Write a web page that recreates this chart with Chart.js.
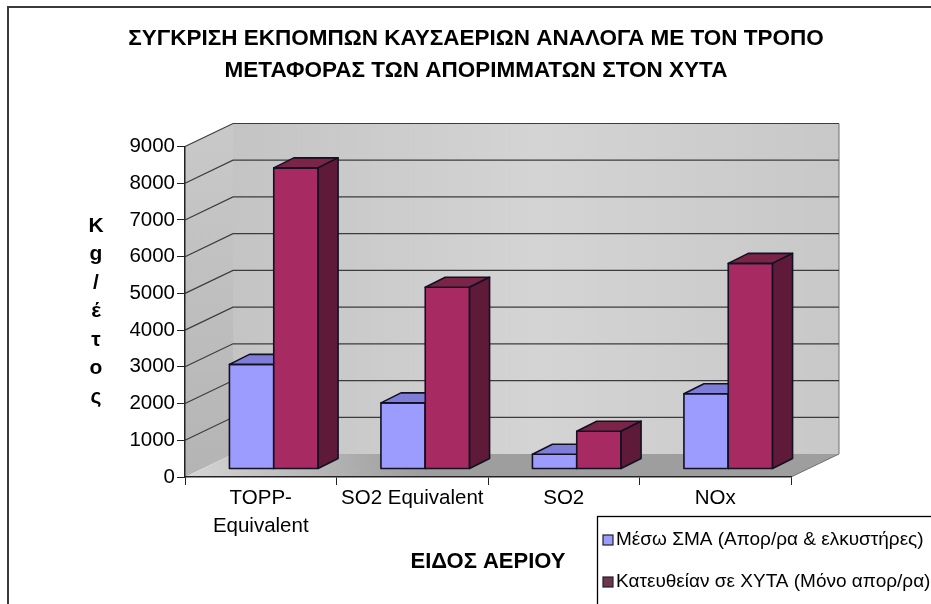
<!DOCTYPE html>
<html>
<head>
<meta charset="utf-8">
<script src="https://cdn.jsdelivr.net/npm/chart.js@4.4.1/dist/chart.umd.min.js"></script>
<style>
  html, body { margin: 0; padding: 0; background: #ffffff; }
  #wrap { width: 931px; height: 604px; position: relative; }
</style>
</head>
<body>
<div id="wrap"><canvas id="c" width="931" height="604"></canvas></div>
<script>
// ---------- data ----------
const titleLines = ['ΣΥΓΚΡΙΣΗ ΕΚΠΟΜΠΩΝ ΚΑΥΣΑΕΡΙΩΝ ΑΝΑΛΟΓΑ ΜΕ ΤΟΝ ΤΡΟΠΟ', 'ΜΕΤΑΦΟΡΑΣ ΤΩΝ ΑΠΟΡΙΜΜΑΤΩΝ ΣΤΟΝ ΧΥΤΑ'];
const categories = [['TOPP-', 'Equivalent'], 'SO2 Equivalent', 'SO2', 'NOx'];
const seriesNames = ['Μέσω ΣΜΑ (Απορ/ρα & ελκυστήρες)', 'Κατευθείαν σε ΧΥΤΑ (Μόνο απορ/ρα)'];
const viaTransfer = [2850, 1800, 400, 2050];
const directToLandfill = [8200, 4950, 1030, 5600];
const yMin = 0, yMax = 9000, yStep = 1000;
const yAxisTitleLetters = ['K', 'g', '/', 'έ', 'τ', 'ο', 'ς'];
const xAxisTitle = 'ΕΙΔΟΣ ΑΕΡΙΟΥ';

// ---------- styles ----------
const FONT = "'Liberation Sans', Arial, sans-serif";
const barStyles = [
  { front: '#9c9cff', top: '#7e7ed8', side: '#6a6abf', legend: '#9c9cff' },
  { front: '#a82a62', top: '#7a2448', side: '#5e1a38', legend: '#6e3650' }
];
const WALL_DX = 48, WALL_DY = -23;   // depth of the 3D box
const BAR_OX = 13, BAR_OY = -8;      // bar front-face placement inside the depth
const BAR_DX = 20, BAR_DY = -10;     // bar depth

Chart.defaults.font.family = FONT;
Chart.defaults.color = '#000000';

const box3d = {
  id: 'box3d',
  beforeDraw(chart) {
    const ctx = chart.ctx;
    const {left: L, right: R} = chart.chartArea;
    const ys = chart.scales.y;
    const T = ys.getPixelForValue(yMax), B = ys.getPixelForValue(yMin);
    ctx.save();
    ctx.fillStyle = '#ffffff';
    ctx.fillRect(0, 0, chart.width, chart.height);
    // outer frame
    ctx.strokeStyle = '#3a3a3a';
    ctx.lineWidth = 2;
    ctx.strokeRect(8, 7, 1000, 1000);

    // back wall
    let g = ctx.createLinearGradient(L + WALL_DX, 0, R + WALL_DX, 0);
    g.addColorStop(0, '#c4c4c4'); g.addColorStop(0.5, '#d4d4d4'); g.addColorStop(1, '#c8c8c8');
    ctx.fillStyle = g;
    ctx.fillRect(L + WALL_DX, T + WALL_DY, R - L, B - T);
    // left wall
    g = ctx.createLinearGradient(0, T, 0, B);
    g.addColorStop(0, '#c8c8c8'); g.addColorStop(1, '#b4b4b4');
    ctx.fillStyle = g;
    ctx.beginPath();
    ctx.moveTo(L, T); ctx.lineTo(L + WALL_DX, T + WALL_DY); ctx.lineTo(L + WALL_DX, B + WALL_DY); ctx.lineTo(L, B);
    ctx.closePath(); ctx.fill();
    // floor
    g = ctx.createLinearGradient(L, B, L + 220, B - 60);
    g.addColorStop(0, '#d6d6d6'); g.addColorStop(1, '#9e9e9e');
    ctx.fillStyle = g;
    ctx.beginPath();
    ctx.moveTo(L, B); ctx.lineTo(L + WALL_DX, B + WALL_DY); ctx.lineTo(R + WALL_DX, B + WALL_DY); ctx.lineTo(R, B);
    ctx.closePath(); ctx.fill();
    // floor right edge
    ctx.strokeStyle = '#707070'; ctx.lineWidth = 1;
    ctx.beginPath(); ctx.moveTo(R, B); ctx.lineTo(R + WALL_DX, B + WALL_DY); ctx.lineTo(R + WALL_DX, T + WALL_DY); ctx.stroke();

    // grid lines on left + back walls
    ctx.strokeStyle = '#3c3c3c'; ctx.lineWidth = 1.2;
    ys.ticks.forEach(t => {
      if (t.value === yMin) return;
      const y = ys.getPixelForValue(t.value);
      ctx.beginPath();
      ctx.moveTo(L, y); ctx.lineTo(L + WALL_DX, y + WALL_DY); ctx.lineTo(R + WALL_DX, y + WALL_DY);
      ctx.stroke();
    });
    ctx.restore();
  },
  beforeDatasetsDraw(chart) {
    const ctx = chart.ctx;
    ctx.save();
    ctx.lineWidth = 1.6;
    ctx.strokeStyle = '#111122';
    ctx.lineJoin = 'round';
    const n = chart.data.labels.length;
    for (let i = 0; i < n; i++) {
      chart.data.datasets.forEach((ds, d) => {
        const el = chart.getDatasetMeta(d).data[i];
        const st = barStyles[d];
        const x0 = el.x - el.width / 2 + BAR_OX, x1 = el.x + el.width / 2 + BAR_OX;
        const t = el.y + BAR_OY, b = el.base + BAR_OY;
        // front
        ctx.fillStyle = st.front;
        ctx.beginPath(); ctx.rect(x0, t, x1 - x0, b - t); ctx.fill(); ctx.stroke();
        // top
        ctx.fillStyle = st.top;
        ctx.beginPath();
        ctx.moveTo(x0, t); ctx.lineTo(x0 + BAR_DX, t + BAR_DY); ctx.lineTo(x1 + BAR_DX, t + BAR_DY); ctx.lineTo(x1, t);
        ctx.closePath(); ctx.fill(); ctx.stroke();
        // side
        ctx.fillStyle = st.side;
        ctx.beginPath();
        ctx.moveTo(x1, t); ctx.lineTo(x1 + BAR_DX, t + BAR_DY); ctx.lineTo(x1 + BAR_DX, b + BAR_DY); ctx.lineTo(x1, b);
        ctx.closePath(); ctx.fill(); ctx.stroke();
      });
    }
    ctx.restore();
    return false;
  },
  afterDraw(chart) {
    const ctx = chart.ctx;
    ctx.save();
    // vertical stacked y-axis title
    ctx.font = "bold 21px " + FONT;
    ctx.fillStyle = '#000';
    ctx.textAlign = 'center';
    ctx.textBaseline = 'middle';
    yAxisTitleLetters.forEach((ch, k) => ctx.fillText(ch, 96, 226 + k * 28.5));

    // legend box
    ctx.fillStyle = '#ffffff';
    ctx.fillRect(597, 516, 400, 200);
    ctx.strokeStyle = '#000'; ctx.lineWidth = 1.3;
    ctx.strokeRect(597.5, 516.5, 400, 200);
    ctx.font = "19px " + FONT;
    ctx.textAlign = 'left';
    ctx.textBaseline = 'middle';
    chart.data.datasets.forEach((ds, d) => {
      const y = 540 + d * 42;
      ctx.fillStyle = barStyles[d].legend;
      ctx.fillRect(603, y - 5, 10, 10);
      ctx.strokeStyle = '#222'; ctx.lineWidth = 1.2;
      ctx.strokeRect(603, y - 5, 10, 10);
      ctx.fillStyle = '#000';
      ctx.fillText(ds.label, 616, y);
    });
    ctx.restore();
  }
};

new Chart(document.getElementById('c'), {
  type: 'bar',
  data: {
    labels: categories,
    datasets: [
      { label: seriesNames[0], data: viaTransfer, backgroundColor: barStyles[0].front },
      { label: seriesNames[1], data: directToLandfill, backgroundColor: barStyles[1].front }
    ]
  },
  options: {
    responsive: false,
    animation: false,
    events: [],
    layout: { padding: { left: 21, right: 0, top: 0, bottom: 0 } },
    datasets: { bar: { categoryPercentage: 0.585, barPercentage: 1 } },
    plugins: {
      legend: { display: false },
      tooltip: { enabled: false },
      title: {
        display: true,
        text: titleLines,
        font: { size: 22.5, weight: 'bold', family: FONT, lineHeight: 1.4 },
        color: '#000',
        padding: { top: 23.5, bottom: 60 }
      }
    },
    scales: {
      x: {
        grid: { drawOnChartArea: false, drawTicks: true, tickLength: 8, offset: true, color: '#222', tickColor: '#222' },
        border: { display: true, color: '#222', width: 1.5 },
        ticks: { font: { size: 20.5, lineHeight: 1.35 }, color: '#000', padding: 0, maxRotation: 0, autoSkip: false },
        title: { display: true, text: xAxisTitle, font: { size: 22, weight: 'bold' }, color: '#000', padding: { top: 0, bottom: 29 } },
        afterFit(s) { s.height = 127; }
      },
      y: {
        min: yMin, max: yMax,
        grid: { drawOnChartArea: false, drawTicks: true, tickLength: 8, tickColor: '#222' },
        border: { display: true, color: '#222', width: 1.5 },
        ticks: { stepSize: yStep, font: { size: 20.5 }, color: '#000', padding: 2, callback: v => String(v) },
        afterFit(s) { s.width = 164; }
      },
      spacer: {
        type: 'linear', position: 'right', display: true,
        grid: { display: false }, border: { display: false }, ticks: { display: false },
        afterFit(s) { s.width = 140; }
      }
    }
  },
  plugins: [box3d]
});
</script>
</body>
</html>
